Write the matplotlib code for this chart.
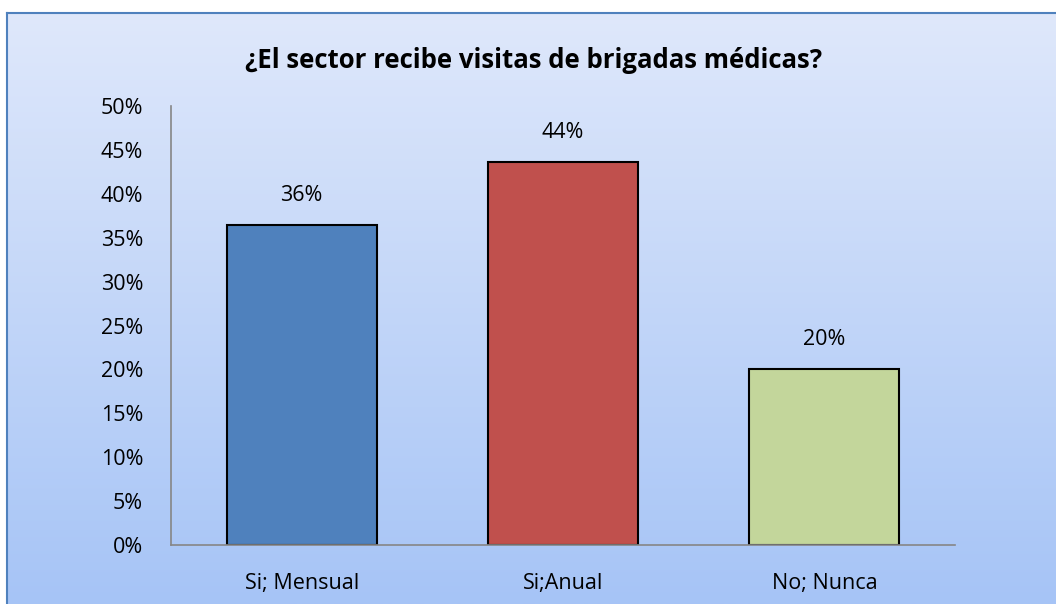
import numpy as np
import matplotlib.pyplot as plt
from matplotlib.colors import LinearSegmentedColormap
from matplotlib.ticker import FuncFormatter

categories = ["Si; Mensual", "Si;Anual", "No; Nunca"]
values = [36.4, 43.6, 20.0]
labels = ["36%", "44%", "20%"]
colors = ["#4f81bd", "#c0504d", "#c3d69b"]

plt.rcParams['font.family'] = ['Open Sans', 'DejaVu Sans']

fig = plt.figure(figsize=(10.56, 6.04), dpi=100)
fig.patch.set_facecolor("white")

# gradient background panel with border
bg = fig.add_axes([7/1056, 0, 1 - 7/1056, (604 - 13)/604])
cmap = LinearSegmentedColormap.from_list("bg", ["#dfe8fb", "#a6c4f6"])
grad = np.linspace(0, 1, 256).reshape(-1, 1)
bg.imshow(grad, aspect="auto", cmap=cmap, extent=[0, 1, 0, 1], origin="upper")
bg.set_xticks([])
bg.set_yticks([])
for side, sp in bg.spines.items():
    sp.set_color("#4f81bd")
    sp.set_linewidth(1.5)
bg.spines["right"].set_visible(False)
bg.spines["bottom"].set_visible(False)

ax = fig.add_axes([171/1056, (604 - 545)/604, (955 - 171)/1056, (545 - 106)/604])
ax.patch.set_alpha(0)
x = np.arange(len(categories))
bars = ax.bar(x, values, width=0.575, color=colors, edgecolor="black", linewidth=1.5)
for b, lab in zip(bars, labels):
    ax.text(b.get_x() + b.get_width()/2, b.get_height() + 2.2, lab,
            ha="center", va="bottom", fontsize=15.5)

ax.set_xlim(-0.5, 2.5)
ax.set_ylim(0, 50)
ax.set_yticks(np.arange(0, 51, 5))
ax.yaxis.set_major_formatter(FuncFormatter(lambda v, p: f"{int(v)}%"))
ax.set_xticks(x)
ax.set_xticklabels(categories)
ax.tick_params(axis="both", labelsize=15.5, length=0)
ax.tick_params(axis="x", pad=20)
ax.tick_params(axis="y", pad=20)
ax.spines["top"].set_visible(False)
ax.spines["right"].set_visible(False)
ax.spines["left"].set_color("#868686")
ax.spines["bottom"].set_color("#868686")
ax.spines["left"].set_linewidth(1.2)
ax.spines["bottom"].set_linewidth(1.2)

fig.text(0.5 + 6/1056, 1 - 60/604, "¿El sector recibe visitas de brigadas médicas?",
         ha="center", va="center", fontsize=18.5, fontweight="bold")

fig.savefig("out.png", dpi=100)
